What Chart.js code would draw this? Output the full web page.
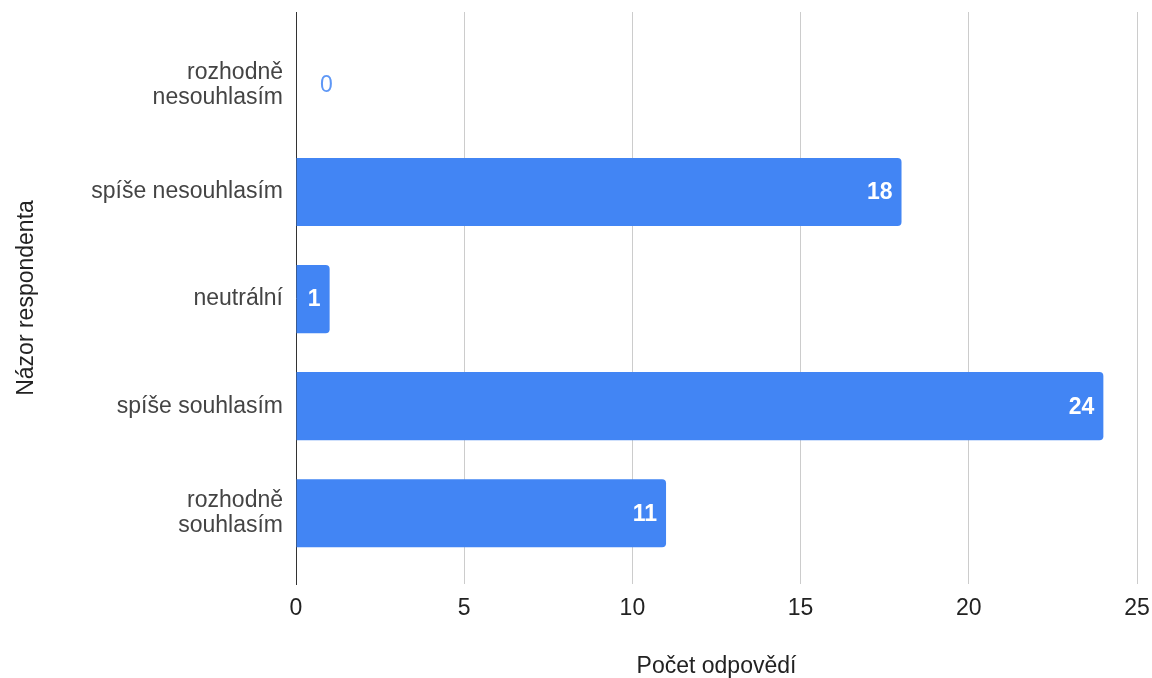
<!DOCTYPE html>
<html>
<head>
<meta charset="utf-8">
<script src="https://cdn.jsdelivr.net/npm/chart.js@4.4.1/dist/chart.umd.min.js"></script>
<style>
  html, body { margin: 0; padding: 0; background: #fff; }
  #wrap { width: 1152px; height: 678px; }
</style>
</head>
<body>
<div id="wrap"><canvas id="chart"></canvas></div>
<script>
// data
const categories = [
  ['rozhodně', 'nesouhlasím'],
  'spíše nesouhlasím',
  'neutrální',
  'spíše souhlasím',
  ['rozhodně', 'souhlasím']
];
const counts = [0, 18, 1, 24, 11];
const xTicks = [0, 5, 10, 15, 20, 25];

const FONT = '"Liberation Sans", Arial, sans-serif';
const SIZE = 23;

// value labels at the bar end
const barLabels = {
  id: 'barLabels',
  afterDatasetsDraw(chart) {
    const ctx = chart.ctx;
    const meta = chart.getDatasetMeta(0);
    ctx.save();
    ctx.textBaseline = 'middle';
    meta.data.forEach((bar, i) => {
      const txt = String(counts[i]);
      ctx.font = 'bold ' + SIZE + 'px ' + FONT;
      const w = ctx.measureText(txt).width;
      const len = bar.x - bar.base;
      if (len >= w + 16) {
        ctx.fillStyle = '#ffffff';
        ctx.textAlign = 'right';
        ctx.fillText(txt, bar.x - 9, bar.y + 1);
      } else {
        ctx.font = SIZE + 'px ' + FONT;
        ctx.fillStyle = '#5e97f6';
        ctx.textAlign = 'left';
        ctx.fillText(txt, bar.x + 24, bar.y + 1);
      }
    });
    ctx.restore();
  }
};

const ctx = document.getElementById('chart');

new Chart(ctx, {
  type: 'bar',
  data: {
    datasets: [{
      data: counts.map((v, i) => ({ x: v, y: i })),
      backgroundColor: '#4285f4',
      borderRadius: 4,
      borderSkipped: 'start',
      barPercentage: 0.636,
      categoryPercentage: 1
    }]
  },
  options: {
    indexAxis: 'y',
    responsive: true,
    maintainAspectRatio: false,
    animation: false,
    layout: { padding: { top: 12, right: 15, bottom: 0, left: 0 } },
    plugins: {
      legend: { display: false },
      tooltip: { enabled: false }
    },
    scales: {
      x: {
        type: 'linear',
        min: 0,
        max: 25,
        afterBuildTicks: (scale) => { scale.ticks = xTicks.map(v => ({ value: v })); },
        afterFit: (scale) => {
          scale.height = 94;
          scale.paddingLeft = 0;
          scale.paddingRight = 0;
        },
        grid: { color: '#cccccc', lineWidth: 1, drawTicks: false },
        border: { display: false },
        ticks: {
          padding: 11,
          color: '#222222',
          font: { family: FONT, size: SIZE }
        },
        title: {
          display: true,
          text: 'Počet odpovědí',
          color: '#222222',
          font: { family: FONT, size: SIZE },
          padding: { top: 0, bottom: -2 }
        }
      },
      y: {
        type: 'linear',
        reverse: true,
        offset: false,
        min: -0.68,
        max: 4.66,
        afterBuildTicks: (scale) => { scale.ticks = categories.map((c, i) => ({ value: i })); },
        afterFit: (scale) => {
          scale.width = 296;
          scale.paddingTop = 0;
          scale.paddingBottom = 0;
        },
        grid: { display: false, drawTicks: false },
        border: { display: true, color: '#333333', width: 1 },
        ticks: {
          padding: 13,
          color: '#444444',
          font: { family: FONT, size: SIZE, lineHeight: 1.1 },
          callback: (value) => categories[value]
        },
        title: {
          display: true,
          text: 'Názor respondenta',
          color: '#222222',
          font: { family: FONT, size: SIZE },
          padding: { top: 13, bottom: 0 }
        }
      }
    }
  },
  plugins: [barLabels]
});
</script>
</body>
</html>
